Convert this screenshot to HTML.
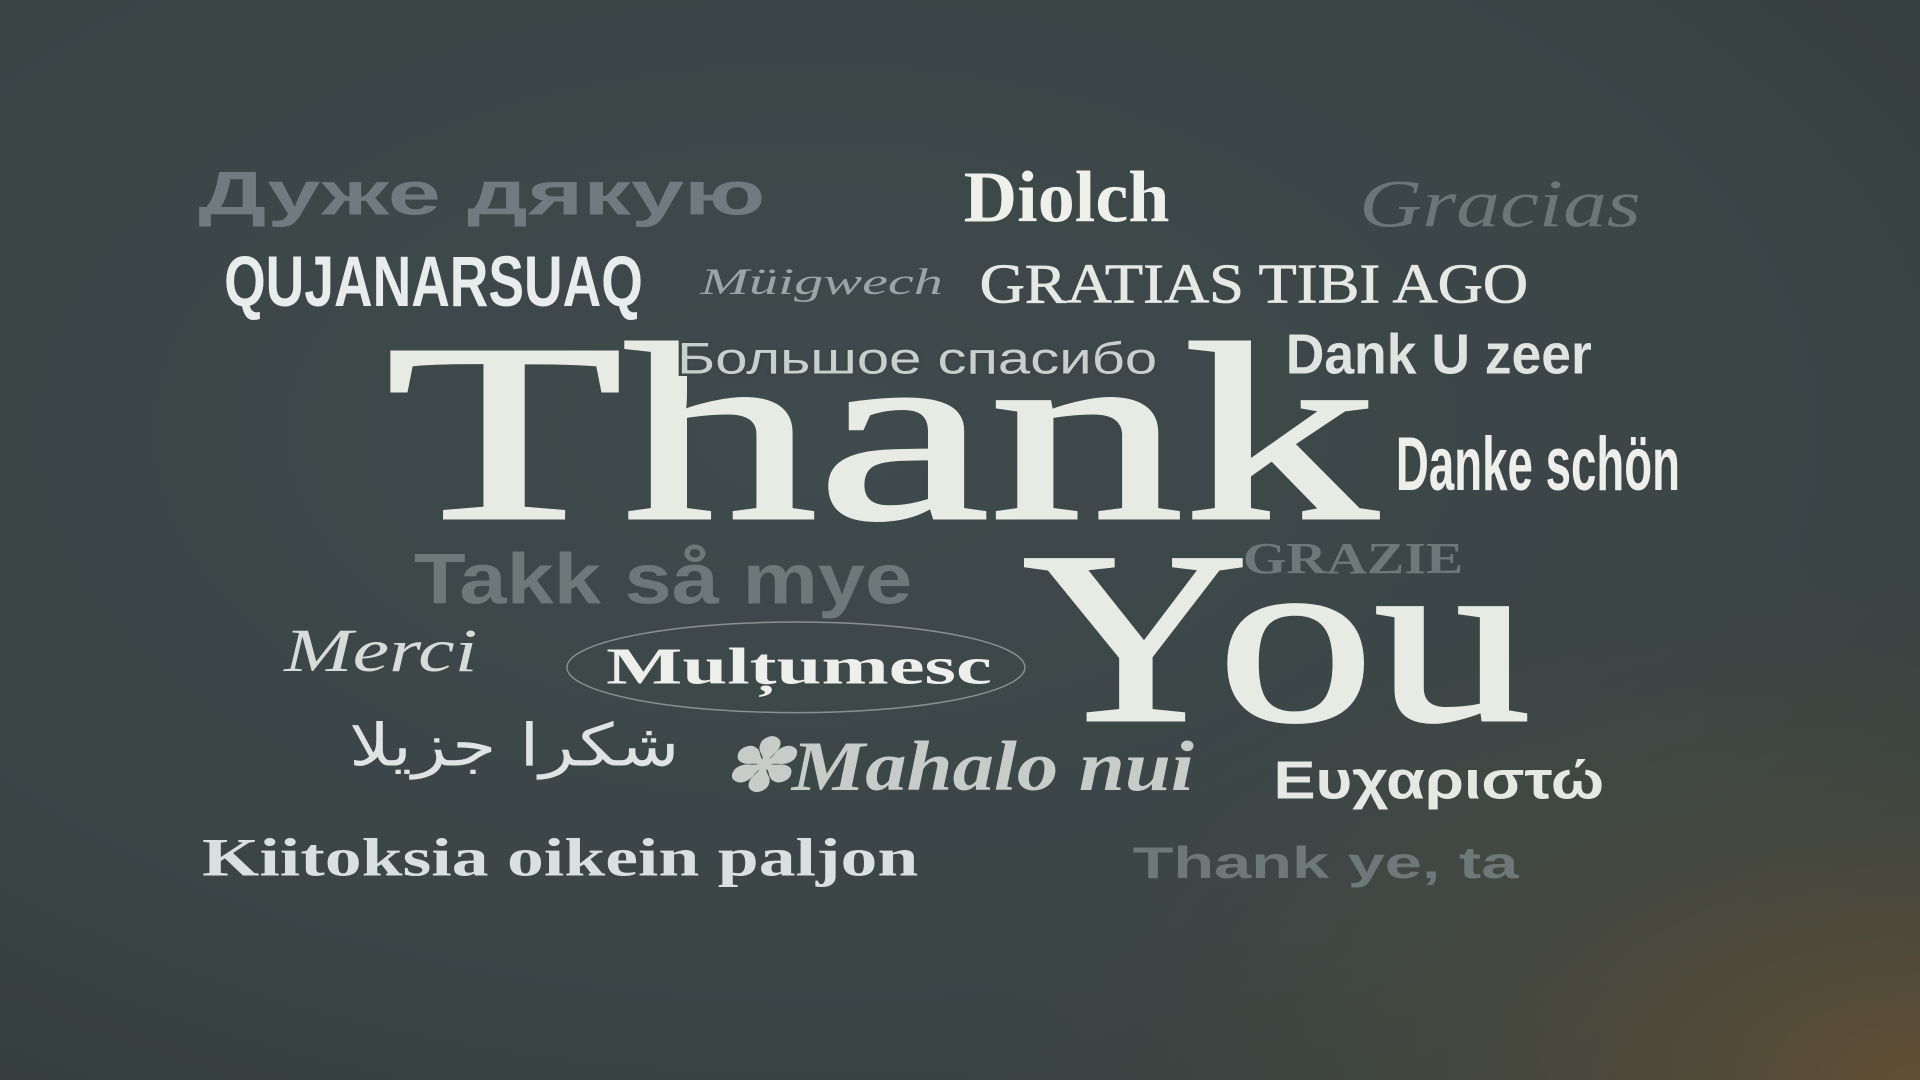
<!DOCTYPE html>
<html>
<head>
<meta charset="utf-8">
<style>
html,body{margin:0;padding:0;width:1920px;height:1080px;overflow:hidden;background:#3c4648;}
svg{display:block}
</style>
</head>
<body>
<svg width="1920" height="1080" viewBox="0 0 1568 882" xmlns="http://www.w3.org/2000/svg">
<defs>
<radialGradient id="bg" cx="0.42" cy="0.4" r="0.85">
<stop offset="0" stop-color="#3f4a4c"/>
<stop offset="0.6" stop-color="#3b4546"/>
<stop offset="1" stop-color="#333b3a"/>
</radialGradient>
<radialGradient id="warm" cx="1" cy="1" r="0.5">
<stop offset="0" stop-color="#6a5233" stop-opacity="0.85"/>
<stop offset="0.5" stop-color="#54503c" stop-opacity="0.4"/>
<stop offset="1" stop-color="#4a4c44" stop-opacity="0"/>
</radialGradient>
</defs>
<rect width="1568" height="882" fill="url(#bg)"/>
<rect width="1568" height="882" fill="url(#warm)"/>

<g font-family="Liberation Sans, DejaVu Sans, sans-serif">
<text x="162" y="175" font-size="50" font-weight="bold" fill="#6f7b7e" textLength="463" lengthAdjust="spacingAndGlyphs">Дуже дякую</text>
<text x="787" y="181" font-size="60" font-weight="bold" font-family="Liberation Serif, serif" fill="#f0f0ea" textLength="168" lengthAdjust="spacingAndGlyphs">Diolch</text>
<text x="1110" y="185" font-size="55" font-style="italic" font-family="Liberation Serif, serif" fill="#6b7676" textLength="230" lengthAdjust="spacingAndGlyphs">Gracias</text>
<text x="183" y="250" font-size="58" font-weight="bold" fill="#e8ecea" textLength="342" lengthAdjust="spacingAndGlyphs">QUJANARSUAQ</text>
<text x="572" y="240" font-size="30" font-style="italic" font-family="Liberation Serif, serif" fill="#9aa6a6" textLength="198" lengthAdjust="spacingAndGlyphs">Müigwech</text>
<text x="800" y="247" font-size="46" font-family="Liberation Serif, serif" fill="#e6e8e4" stroke="#e6e8e4" stroke-width="0.6" textLength="448" lengthAdjust="spacingAndGlyphs">GRATIAS TIBI AGO</text>
<text x="315" y="423" font-size="207" font-family="Liberation Serif, serif" fill="#e8eae4" stroke="#e8eae4" stroke-width="2.5" textLength="810" lengthAdjust="spacingAndGlyphs">Thank</text>
<text x="553" y="305" font-size="36" fill="#c8cfcc" stroke="#3d4748" stroke-width="4" paint-order="stroke" textLength="392" lengthAdjust="spacingAndGlyphs">Большое спасибо</text>
<text x="1050" y="305" font-size="46" font-weight="bold" fill="#e0e4e0" textLength="250" lengthAdjust="spacingAndGlyphs">Dank U zeer</text>
<text x="1140" y="400" font-size="62" font-weight="bold" fill="#eeeeea" textLength="232" lengthAdjust="spacingAndGlyphs">Danke schön</text>
<text x="338" y="493" font-size="58" font-weight="bold" fill="#6e7878" textLength="407" lengthAdjust="spacingAndGlyphs">Takk så mye</text>
<text x="1015" y="468" font-size="36" font-weight="bold" font-family="Liberation Serif, serif" fill="#6e7878" textLength="180" lengthAdjust="spacingAndGlyphs">GRAZIE</text>
<text x="835" y="588" font-size="200" font-family="Liberation Serif, serif" fill="#e8eae4" stroke="#e8eae4" stroke-width="2.5" textLength="415" lengthAdjust="spacingAndGlyphs">You</text>
<text x="232" y="548" font-size="50" font-style="italic" font-family="Liberation Serif, serif" fill="#d8dcd8" textLength="158" lengthAdjust="spacingAndGlyphs">Merci</text>
<ellipse cx="650" cy="545" rx="187" ry="37" fill="none" stroke="#8a9090" stroke-width="1.2"/>
<text x="495" y="558" font-size="42" font-weight="bold" font-family="Liberation Serif, serif" fill="#eeeeea" textLength="315" lengthAdjust="spacingAndGlyphs">Mulțumesc</text>
<text x="285" y="625" font-size="48" font-family="DejaVu Sans, sans-serif" fill="#dfe4e2" textLength="270" lengthAdjust="spacingAndGlyphs">شكرا جزيلا</text>
<text x="590" y="645" font-size="58" font-weight="bold" font-style="italic" font-family="Liberation Serif, serif" fill="#c8ccc8" textLength="385" lengthAdjust="spacingAndGlyphs">✽Mahalo nui</text>
<text x="1040" y="652" font-size="44" font-weight="bold" fill="#e6e8e4" textLength="270" lengthAdjust="spacingAndGlyphs">Ευχαριστώ</text>
<text x="165" y="715" font-size="44" font-weight="bold" font-family="Liberation Serif, serif" fill="#d8e0e0" textLength="585" lengthAdjust="spacingAndGlyphs">Kiitoksia  oikein  paljon</text>
<text x="925" y="717" font-size="36" font-weight="bold" fill="#6e7878" textLength="315" lengthAdjust="spacingAndGlyphs">Thank ye, ta</text>
</g>
</svg>
</body>
</html>
